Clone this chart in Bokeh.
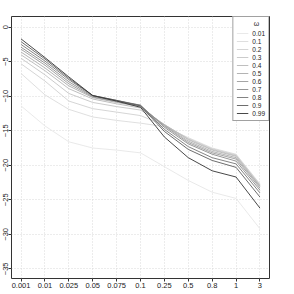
from bokeh.plotting import figure
from bokeh.models import FixedTicker, Legend, LegendItem, Range1d
from bokeh.embed import file_html
from bokeh.resources import INLINE

# x categories (equally spaced)
x_labels = ["0.001", "0.01", "0.025", "0.05", "0.075", "0.1", "0.25", "0.5", "0.8", "1", "3"]
omega_labels = ["0.01", "0.1", "0.2", "0.3", "0.4", "0.5", "0.6", "0.7", "0.8", "0.9", "0.99"]
y_ticks = [0, -5, -10, -15, -20, -25, -30, -35]

w_001 = [-11.4, -14.3, -16.6, -17.5, -17.8, -18.2, -20.2, -22.2, -23.9, -24.8, -29.2]
w_01 = [-6.7, -9.8, -11.9, -13.0, -13.5, -13.9, -14.4, -16.0, -17.5, -18.4, -22.7]
w_02 = [-5.3, -7.8, -10.7, -11.8, -12.3, -12.8, -14.2, -16.1, -17.6, -18.5, -22.8]
w_03 = [-4.5, -6.9, -9.6, -10.9, -11.5, -12.0, -14.1, -16.2, -17.7, -18.6, -22.9]
w_04 = [-4.0, -6.3, -8.9, -10.4, -11.1, -11.7, -14.1, -16.3, -17.8, -18.7, -23.0]
w_05 = [-3.6, -5.9, -8.5, -10.2, -10.9, -11.5, -14.2, -16.5, -18.0, -18.9, -23.1]
w_06 = [-3.2, -5.5, -8.2, -10.1, -10.8, -11.4, -14.3, -16.7, -18.2, -19.1, -23.3]
w_07 = [-2.9, -5.2, -7.9, -10.0, -10.7, -11.3, -14.5, -16.9, -18.4, -19.4, -23.6]
w_08 = [-2.5, -4.9, -7.6, -9.9, -10.6, -11.3, -14.8, -17.3, -18.9, -19.8, -24.0]
w_09 = [-2.1, -4.6, -7.4, -9.9, -10.6, -11.4, -15.1, -17.7, -19.3, -20.3, -24.6]
w_099 = [-1.7, -4.4, -7.2, -9.9, -10.7, -11.6, -15.9, -18.9, -20.8, -21.7, -26.2]

series = [w_001, w_01, w_02, w_03, w_04, w_05, w_06, w_07, w_08, w_09, w_099]

# grey ramp (light -> dark), like R's gray.colors
n = len(series)
colors = []
for i in range(n):
    g = (0.9 ** 2.2 + (0.2 ** 2.2 - 0.9 ** 2.2) * i / (n - 1)) ** (1 / 2.2)
    v = int(round(g * 255))
    colors.append("#%02x%02x%02x" % (v, v, v))

FONT = "Liberation Sans"

p = figure(width=278, height=290, output_backend="svg", toolbar_location=None,
           x_range=Range1d(0.6, 11.4), y_range=Range1d(-36.4, 1.55),
           min_border_left=0, min_border_right=9, min_border_top=16, min_border_bottom=0)
p.background_fill_color = "white"
p.border_fill_color = "white"
p.outline_line_color = "#333333"
p.outline_line_width = 1

xs = list(range(1, len(x_labels) + 1))
renderers = []
for s, c in zip(series, colors):
    r = p.line(xs, s, line_color=c, line_width=0.9)
    renderers.append(r)

# axes
p.xaxis.ticker = FixedTicker(ticks=xs)
p.xaxis.major_label_overrides = {x: lab for x, lab in zip(xs, x_labels)}
p.yaxis.ticker = FixedTicker(ticks=y_ticks)
for ax in (p.xaxis, p.yaxis):
    ax.axis_line_color = None
    ax.major_tick_in = 0
    ax.major_tick_out = 3
    ax.major_tick_line_color = "#333333"
    ax.minor_tick_line_color = None
    ax.major_label_text_font = FONT
    ax.major_label_text_font_size = "7.5px"
    ax.major_label_text_color = "#222222"
    ax.major_label_standoff = 1
p.yaxis.major_label_standoff = 0
p.yaxis.major_label_orientation = "vertical"

for g in (p.xgrid, p.ygrid):
    g.grid_line_color = "#d8d8d8"
    g.grid_line_dash = "1 2"
p.xgrid.ticker = FixedTicker(ticks=xs)
p.ygrid.ticker = FixedTicker(ticks=y_ticks)

items = [LegendItem(label=lab, renderers=[r]) for lab, r in zip(omega_labels, renderers)]
legend = Legend(items=items, location="top_right", title="\u00a0" * 9 + "ω",
                title_text_font=FONT, title_text_font_size="7px", title_text_font_style="normal",
                title_text_color="#222222", title_standoff=2,
                label_text_font=FONT, label_text_font_size="6.5px", label_text_color="#222222",
                glyph_width=12, glyph_height=8, label_height=8, label_width=10, label_standoff=4,
                spacing=0, padding=3, margin=0,
                border_line_color="#444444", border_line_width=1,
                background_fill_color="white", background_fill_alpha=1.0)
p.add_layout(legend)

open("out.html", "w").write(file_html(p, INLINE))
